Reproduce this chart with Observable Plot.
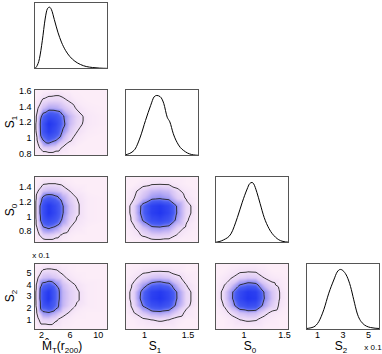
<!DOCTYPE html>
<html><head><meta charset="utf-8">
<script src="https://cdn.jsdelivr.net/npm/d3@7"></script>
<script src="https://cdn.jsdelivr.net/npm/@observablehq/plot@0.6"></script>
<style>
body{margin:0;background:#fff;}
#c{position:relative;width:382px;height:354px;overflow:hidden;font-family:"Liberation Sans",Arial,sans-serif;}
.p{position:absolute;}
.lab{position:absolute;font-size:12px;color:#000;white-space:nowrap;line-height:1;transform:translate(-50%,-50%);}
.lab .s{font-size:8px;position:relative;top:3px;}
.rot{transform:translate(-50%,-50%) rotate(-90deg);}
.small{font-size:8px;}
</style></head><body><div id="c"></div>
<script>
// ---- axis domains and ticks ----
const domM = [1, 11.3];
const domS1 = [0.78, 1.62];
const domS0 = [0.65, 1.55];
const domS2 = [0.15, 5.85]; // in units of 0.1
const ticksM = [2, 6, 10];
const ticksS1y = [0.8, 1, 1.2, 1.4, 1.6];
const ticksS0y = [0.8, 1, 1.2, 1.4];
const ticksS2y = [1, 2, 3, 4, 5];
const ticksS1x = [1, 1.5];
const ticksS0x = [1, 1.5];
const ticksS2x = [1, 3, 5];

// ---- 1D marginals (relative density) ----
const margM_x = [1.0, 1.3, 1.7, 2.1, 2.5, 2.8, 3.1, 3.4, 3.8, 4.3, 4.8, 5.4, 6.0, 6.7, 7.5, 8.3, 9.2, 10.2, 11.3];
const margM_y = [0, 0.03, 0.15, 0.42, 0.75, 0.9, 0.93, 0.89, 0.74, 0.55, 0.4, 0.27, 0.18, 0.11, 0.06, 0.03, 0.015, 0.006, 0.002];
const margS1_x = [0.78, 0.88, 0.95, 1.01, 1.07, 1.11, 1.14, 1.18, 1.22, 1.26, 1.29, 1.33, 1.39, 1.47, 1.56, 1.62];
const margS1_y = [0.01, 0.08, 0.28, 0.53, 0.76, 0.89, 0.91, 0.89, 0.79, 0.58, 0.51, 0.33, 0.16, 0.056, 0.01, 0.003];
const margS0_x = [0.66, 0.75, 0.84, 0.92, 0.98, 1.04, 1.07, 1.10, 1.12, 1.16, 1.2, 1.25, 1.31, 1.39, 1.47, 1.55];
const margS0_y = [0.005, 0.04, 0.13, 0.38, 0.61, 0.81, 0.89, 0.91, 0.89, 0.76, 0.59, 0.38, 0.21, 0.08, 0.02, 0.005];
const margS2_x = [0.15, 0.72, 1.11, 1.5, 1.89, 2.28, 2.54, 2.8, 3.06, 3.32, 3.59, 3.84, 4.1, 4.5, 5.15, 5.85];
const margS2_y = [0.015, 0.04, 0.12, 0.30, 0.55, 0.75, 0.87, 0.91, 0.88, 0.80, 0.65, 0.45, 0.25, 0.10, 0.03, 0.015];

// ---- 2D density grids (rows: y from low to high, cols: x from low to high) ----
const gridM = [1, 1.5, 2.2, 3, 4, 5, 6, 7, 8.5, 11.3];
const gridS1 = [0.78, 0.88, 0.98, 1.08, 1.18, 1.28, 1.38, 1.48, 1.62];
const gridS0 = [0.65, 0.75, 0.85, 0.95, 1.05, 1.15, 1.25, 1.35, 1.45, 1.55];
const gridS2 = [0.15, 1, 1.6, 2.2, 2.8, 3.4, 4, 4.6, 5.2, 5.85];

const denS1_M = [
  [0,0,0,0,0,0,0,0,0,0],
  [0,0.03,0.1,0.13,0.09,0.04,0.01,0,0,0],
  [0,0.07,0.36,0.52,0.38,0.16,0.06,0.02,0,0],
  [0,0.11,0.6,0.9,0.68,0.31,0.12,0.05,0.01,0],
  [0,0.13,0.62,1.0,0.8,0.42,0.18,0.08,0.02,0],
  [0,0.1,0.46,0.72,0.63,0.38,0.19,0.09,0.02,0],
  [0,0.05,0.16,0.24,0.23,0.16,0.09,0.04,0.01,0],
  [0,0.02,0.06,0.08,0.09,0.07,0.04,0.01,0,0],
  [0,0,0,0,0,0,0,0,0,0]
];
const denS0_M = [
  [0,0,0,0,0,0,0,0,0,0],
  [0,0.03,0.1,0.12,0.08,0.03,0.01,0,0,0],
  [0,0.07,0.3,0.38,0.28,0.12,0.05,0.02,0,0],
  [0,0.11,0.58,0.75,0.58,0.28,0.11,0.04,0.01,0],
  [0,0.13,0.68,0.98,0.75,0.36,0.14,0.06,0.01,0],
  [0,0.13,0.68,0.95,0.72,0.36,0.15,0.06,0.01,0],
  [0,0.1,0.42,0.55,0.45,0.24,0.11,0.05,0.01,0],
  [0,0.05,0.14,0.18,0.16,0.1,0.05,0.02,0,0],
  [0,0.01,0.04,0.05,0.05,0.03,0.01,0,0,0],
  [0,0,0,0,0,0,0,0,0,0]
];
const denS2_M = [
  [0,0,0,0,0,0,0,0,0,0],
  [0,0.04,0.09,0.1,0.06,0.02,0.01,0,0,0],
  [0,0.08,0.3,0.34,0.22,0.09,0.04,0.01,0,0],
  [0,0.12,0.6,0.75,0.46,0.19,0.09,0.04,0.01,0],
  [0,0.13,0.7,1.0,0.5,0.2,0.11,0.06,0.01,0],
  [0,0.13,0.68,0.95,0.5,0.2,0.11,0.06,0.01,0],
  [0,0.1,0.44,0.55,0.36,0.16,0.08,0.04,0.01,0],
  [0,0.05,0.16,0.18,0.13,0.07,0.03,0.01,0,0],
  [0,0.02,0.06,0.07,0.06,0.03,0.01,0,0,0],
  [0,0,0,0,0,0,0,0,0,0]
];
const denS0_S1 = [
  [0,0,0,0,0,0,0,0,0],
  [0,0.02,0.06,0.11,0.12,0.1,0.04,0.01,0],
  [0,0.04,0.15,0.27,0.3,0.25,0.1,0.03,0],
  [0,0.08,0.36,0.69,0.78,0.62,0.24,0.06,0],
  [0,0.1,0.45,0.88,1.0,0.8,0.3,0.08,0],
  [0,0.1,0.43,0.84,0.95,0.76,0.29,0.08,0],
  [0,0.05,0.16,0.29,0.33,0.27,0.11,0.04,0],
  [0,0.03,0.1,0.18,0.2,0.17,0.07,0.02,0],
  [0,0,0.02,0.035,0.04,0.035,0.015,0,0],
  [0,0,0,0,0,0,0,0,0]
];
const denS2_S1 = [
  [0,0,0,0,0,0,0,0,0],
  [0,0.01,0.03,0.05,0.06,0.05,0.02,0,0],
  [0,0.05,0.14,0.24,0.27,0.22,0.1,0.03,0],
  [0,0.08,0.36,0.66,0.75,0.6,0.25,0.07,0],
  [0,0.1,0.46,0.88,1.0,0.8,0.31,0.08,0],
  [0,0.1,0.43,0.84,0.95,0.76,0.3,0.08,0],
  [0,0.07,0.25,0.44,0.5,0.42,0.18,0.05,0],
  [0,0.03,0.09,0.15,0.17,0.14,0.07,0.02,0],
  [0,0.01,0.03,0.04,0.045,0.04,0.02,0,0],
  [0,0,0,0,0,0,0,0,0]
];
const denS2_S0 = [
  [0,0,0,0,0,0,0,0,0,0],
  [0,0,0.02,0.05,0.06,0.055,0.02,0.01,0,0],
  [0,0.02,0.07,0.16,0.2,0.18,0.08,0.03,0.01,0],
  [0,0.05,0.22,0.56,0.72,0.66,0.25,0.11,0.03,0],
  [0,0.07,0.3,0.78,1.0,0.92,0.35,0.15,0.04,0],
  [0,0.07,0.29,0.74,0.95,0.87,0.33,0.14,0.04,0],
  [0,0.04,0.14,0.35,0.45,0.41,0.16,0.07,0.02,0],
  [0,0.02,0.05,0.1,0.13,0.12,0.05,0.02,0.01,0],
  [0,0,0.02,0.035,0.04,0.035,0.02,0,0,0],
  [0,0,0,0,0,0,0,0,0,0]
];
const contourLevels = [0.05, 0.35];

// ---- colour map ----
const cmapDomain = [0, 0.05, 0.15, 0.3, 0.5, 1];
const cmapRange = ["#fcedf8", "#f1dff7", "#d4c2f5", "#9894f3", "#4a5ef2", "#2236f0"];

// ---- layout ----
const colLeft = [34, 125, 215, 306];
const rowTop = [2, 89, 176, 263];
const PW = 73, PH = 66;
const ML = 30, MR = 4, MT = 3, MB = 14;
const font = "Liberation Sans, Arial, sans-serif";
const container = document.getElementById("c");

function gridPoints(xs, ys, m) {
  const out = [];
  ys.forEach((y, i) => xs.forEach((x, j) => out.push({x, y, v: m[i][j]})));
  return out;
}

function panel(r, c, xd, yd, marks, xt, yt) {
  const all = [...marks];
  if (xt) all.push(Plot.axisX({ticks: xt, tickSize: 0, tickPadding: 2, tickFormat: d => String(d), label: null, fontSize: 9}));
  if (yt) all.push(Plot.axisY({ticks: yt, tickSize: 0, tickPadding: 3, tickFormat: d => String(d), label: null, fontSize: 9}));
  all.push(Plot.frame({stroke: "#555", strokeWidth: 1}));
  const svg = Plot.plot({
    width: PW + ML + MR, height: PH + MT + MB,
    marginLeft: ML, marginRight: MR, marginTop: MT, marginBottom: MB,
    style: {background: "transparent", overflow: "visible", maxWidth: "none", fontFamily: font, fontSize: "9px", color: "#000"},
    x: {domain: xd, axis: null},
    y: {domain: yd, axis: null},
    color: {type: "linear", domain: cmapDomain, range: cmapRange, interpolate: "rgb"},
    marks: all
  });
  const d = document.createElement("div");
  d.className = "p";
  d.style.left = (colLeft[c] - ML) + "px";
  d.style.top = (rowTop[r] - MT) + "px";
  d.appendChild(svg);
  container.appendChild(d);
}

function density2d(r, c, xs, ys, m, xd, yd, xt, yt) {
  const pts = gridPoints(xs, ys, m);
  panel(r, c, xd, yd, [
    Plot.raster(pts, {x: "x", y: "y", fill: "v", interpolate: "barycentric", x1: xd[0], x2: xd[1], y1: yd[0], y2: yd[1], pixelSize: 1}),
    Plot.contour(pts, {x: "x", y: "y", value: "v", thresholds: contourLevels, interpolate: "barycentric", x1: xd[0], x2: xd[1], y1: yd[0], y2: yd[1], pixelSize: 1, fill: "none", stroke: "#222", strokeWidth: 0.9})
  ], xt, yt);
}

function marginal(r, c, xs, ys, xd, xt) {
  const pts = xs.map((x, i) => ({x, y: ys[i]}));
  panel(r, c, xd, [0, 1], [
    Plot.line(pts, {x: "x", y: "y", curve: "monotone-x", stroke: "#000", strokeWidth: 1})
  ], xt, null);
}

// diagonal
marginal(0, 0, margM_x, margM_y, domM, null);
marginal(1, 1, margS1_x, margS1_y, domS1, null);
marginal(2, 2, margS0_x, margS0_y, domS0, null);
marginal(3, 3, margS2_x, margS2_y, domS2, ticksS2x);
// lower triangle
density2d(1, 0, gridM, gridS1, denS1_M, domM, domS1, null, ticksS1y);
density2d(2, 0, gridM, gridS0, denS0_M, domM, domS0, null, ticksS0y);
density2d(3, 0, gridM, gridS2, denS2_M, domM, domS2, ticksM, ticksS2y);
density2d(2, 1, gridS1, gridS0, denS0_S1, domS1, domS0, null, null);
density2d(3, 1, gridS1, gridS2, denS2_S1, domS1, domS2, ticksS1x, null);
density2d(3, 2, gridS0, gridS2, denS2_S0, domS0, domS2, ticksS0x, null);

// ---- text labels ----
const labels = [
  {html: 'S<span class="s">1</span>', x: 10, y: 122, rot: true},
  {html: 'S<span class="s">0</span>', x: 10, y: 210, rot: true},
  {html: 'S<span class="s">2</span>', x: 10, y: 296, rot: true},
  {html: 'M\u0302<span class="s">T</span>(r<span class="s">200</span>)', x: 62, y: 346},
  {html: 'S<span class="s">1</span>', x: 155, y: 346},
  {html: 'S<span class="s">0</span>', x: 250, y: 346},
  {html: 'S<span class="s">2</span>', x: 341, y: 346},
  {html: 'x 0.1', x: 373, y: 348, small: true},
  {html: 'x 0.1', x: 41, y: 256, small: true}
];
for (const l of labels) {
  const d = document.createElement("div");
  d.className = "lab" + (l.rot ? " rot" : "") + (l.small ? " small" : "");
  d.style.left = l.x + "px";
  d.style.top = l.y + "px";
  d.innerHTML = l.html;
  container.appendChild(d);
}
</script></body></html>
